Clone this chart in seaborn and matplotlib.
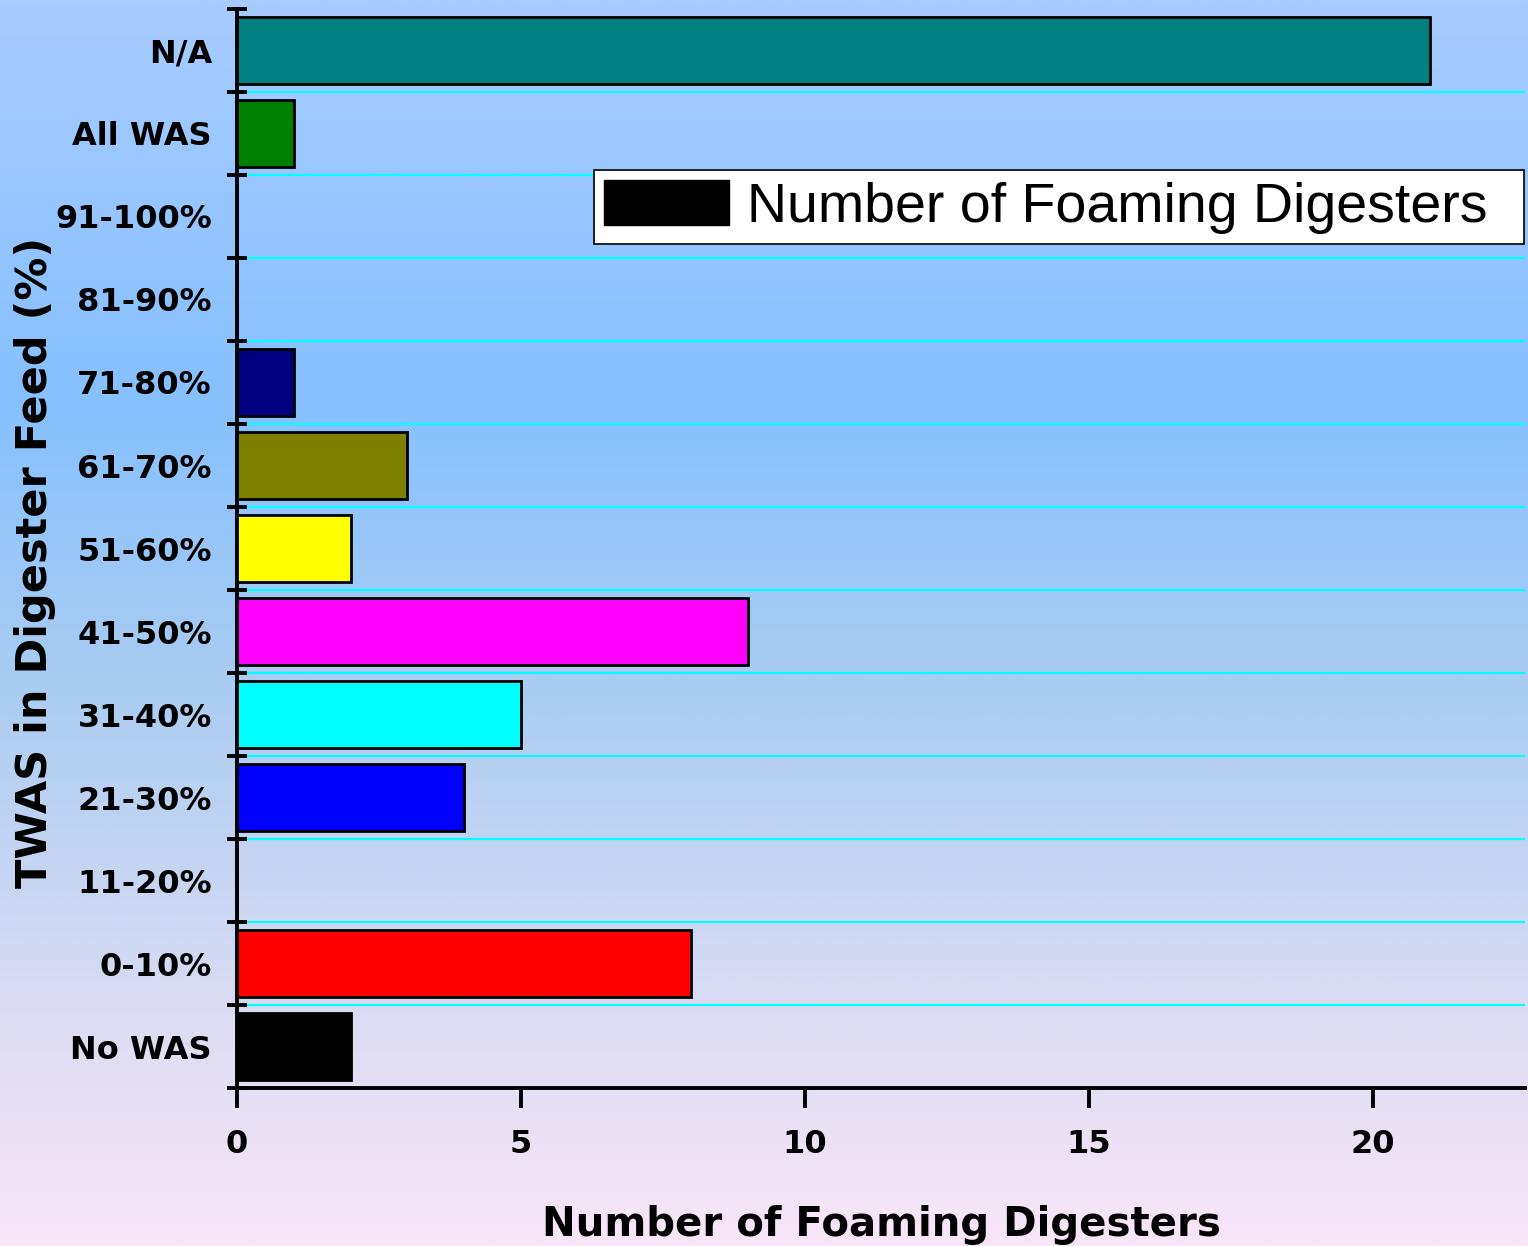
import numpy as np
import pandas as pd
import matplotlib
matplotlib.use("Agg")
import matplotlib.pyplot as plt
from matplotlib.colors import LinearSegmentedColormap
from matplotlib.patches import Patch
import seaborn as sns

# TWAS share in digester feed, listed top to bottom
categories = ["N/A", "All WAS", "91-100%", "81-90%", "71-80%", "61-70%",
              "51-60%", "41-50%", "31-40%", "21-30%", "11-20%", "0-10%", "No WAS"]
foaming_counts = [21, 1, 0, 0, 1, 3, 2, 9, 5, 4, 0, 8, 2]
bar_colors = ["#008080", "#008000", "#808080", "#800000", "#000080", "#808000",
              "#FFFF00", "#FF00FF", "#00FFFF", "#0000FF", "#C0C0C0", "#FF0000", "#000000"]
x_ticks = [0, 5, 10, 15, 20]
series_name = "Number of Foaming Digesters"

df = pd.DataFrame({"category": categories, "count": foaming_counts})

sns.set_theme(style="white")
plt.rcParams["font.family"] = ["DejaVu Sans"]
plt.rcParams["text.color"] = "black"
plt.rcParams["axes.labelcolor"] = "black"
plt.rcParams["xtick.color"] = "black"
plt.rcParams["ytick.color"] = "black"

fig = plt.figure(figsize=(15.28, 12.46), dpi=100)

# vertical background gradient: light blue -> deeper blue -> lavender -> pink
bg = fig.add_axes([0, 0, 1, 1], zorder=0)
bg_cmap = LinearSegmentedColormap.from_list(
    "bg",
    [(0.0, "#A8CCFF"), (0.32, "#86C0FF"), (0.54, "#A8CCF2"),
     (0.84, "#E0DDF2"), (1.0, "#F8E6F8")])
bg.imshow(np.linspace(0, 1, 512).reshape(-1, 1), aspect="auto", cmap=bg_cmap,
          extent=[0, 1, 1, 0])
bg.set_axis_off()

ax = fig.add_axes([0.1551, 0.1268, 0.998 - 0.1551, 0.99278 - 0.1268], zorder=1)
ax.patch.set_alpha(0)
ax.set_axisbelow(False)

sns.barplot(data=df, x="count", y="category", hue="category", order=categories,
            hue_order=categories, palette=bar_colors, legend=False, width=0.8,
            edgecolor="black", linewidth=2, saturation=1, ax=ax, zorder=3)

ax.set_xlim(0, 22.68)
ax.set_ylim(12.5, -0.5)

# cyan separators between categories, kept under the tick marks
for b in np.arange(0.5, 12, 1):
    ax.axhline(b, color="#00FFFF", lw=1.6, zorder=1)

# ticks at category boundaries, labels at centres
ax.set_yticks(np.arange(-0.5, 13, 1))
ax.set_yticklabels([])
ax.set_yticks(np.arange(0, 13), minor=True)
ax.set_yticklabels(categories, minor=True, fontsize=23, fontweight="bold",
                   color="black")
ax.tick_params(axis="y", which="major", direction="inout", length=14.5, width=2.8,
               color="black", left=True)
ax.tick_params(axis="y", which="minor", length=0, pad=18, left=True)

ax.set_xticks(x_ticks)
ax.set_xticklabels([str(t) for t in x_ticks], fontsize=23, fontweight="bold",
                   color="black")
ax.tick_params(axis="x", which="major", direction="out", length=14.5, width=2.8,
               color="black", pad=15, bottom=True)

for side in ["top", "right"]:
    ax.spines[side].set_visible(False)
for side in ["left", "bottom"]:
    ax.spines[side].set_visible(True)
    ax.spines[side].set_color("black")
    ax.spines[side].set_linewidth(2.8)

ax.set_xlabel(series_name, fontsize=29, fontweight="bold", color="black")
ax.xaxis.set_label_coords(0.5, -0.127)
ax.xaxis.label.set_va("center")
ax.set_ylabel("TWAS in Digester Feed (%)", fontsize=31, fontweight="bold",
              color="black")
ax.yaxis.set_label_coords(-0.157, 0.487)
ax.yaxis.label.set_va("center")

# legend box stretched to a fixed width, entry kept at its left
leg_top, leg_h = 0.8508, 0.068
leg = ax.legend(handles=[Patch(facecolor="black", edgecolor="black")],
                labels=[series_name], loc="upper left", mode="expand",
                bbox_to_anchor=(0.2772, leg_top - leg_h, 0.722, leg_h),
                frameon=True, fancybox=False,
                framealpha=1, edgecolor="black", borderpad=0.18,
                borderaxespad=0, handlelength=2.25, handleheight=0.86,
                handletextpad=0.32,
                prop={"family": "Liberation Sans", "size": 40})
leg.get_frame().set_linewidth(1.2)
leg.set_zorder(5)
for t in leg.get_texts():
    t.set_color("black")

fig.savefig("out.png", dpi=100)
